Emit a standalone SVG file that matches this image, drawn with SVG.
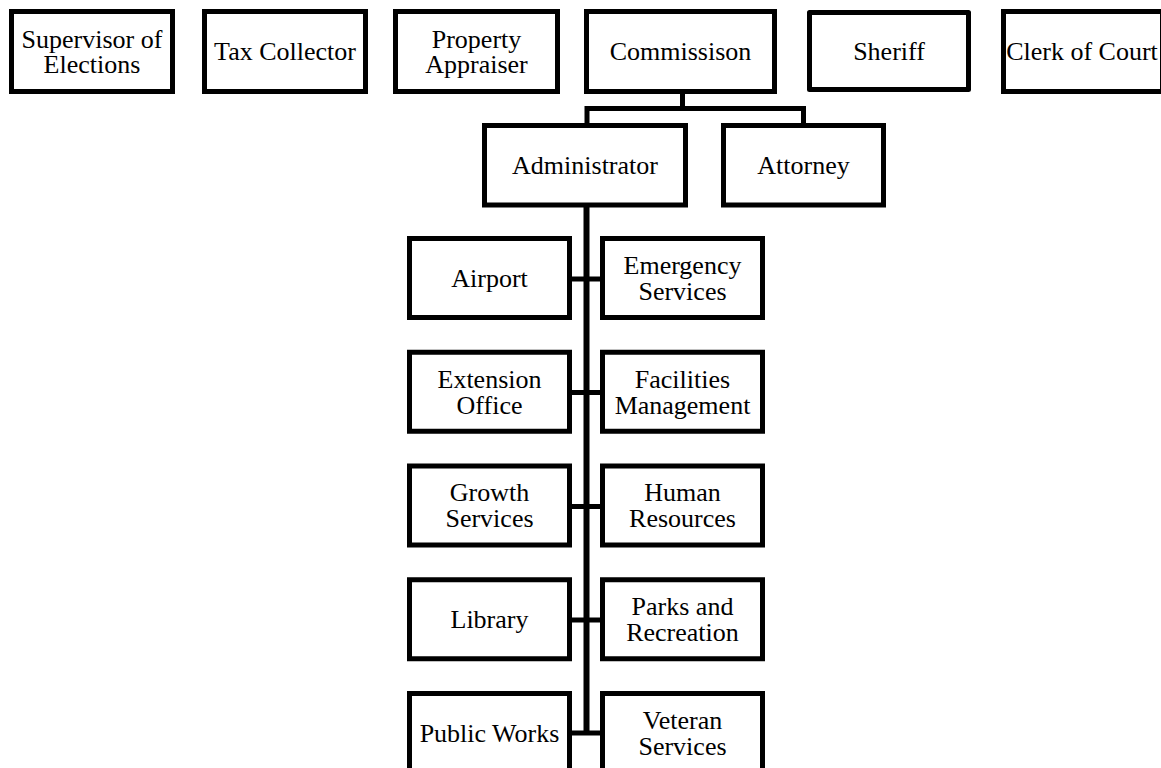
<svg xmlns="http://www.w3.org/2000/svg" width="1161" height="768" viewBox="0 0 1161 768">
<style>
.box{fill:#fff;stroke:#000;stroke-width:5}
.rnd{stroke-linejoin:round}
.t{font-family:"Liberation Serif","Times New Roman",serif;font-size:26px;fill:#000;text-anchor:middle}
.c{fill:none;stroke:#000;stroke-width:5}
</style>
<rect width="1161" height="768" fill="#fff"/>
<g id="connectors">
<polyline class="c" points="682.5,92 682.5,108.5"/>
<polyline class="c" points="587,123 587,108.5 803.5,108.5 803.5,123"/>
<line class="c" x1="586.5" y1="205" x2="586.5" y2="735" style="stroke-width:6"/>
<line class="c" x1="569" y1="279" x2="603" y2="279"/>
<line class="c" x1="569" y1="392.5" x2="603" y2="392.5"/>
<line class="c" x1="569" y1="506.5" x2="603" y2="506.5"/>
<line class="c" x1="569" y1="620" x2="603" y2="620"/>
<line class="c" x1="569" y1="733" x2="603" y2="733"/>
</g>
<g id="supervisor"><rect class="box" x="11.5" y="11.5" width="161" height="80"/><text class="t" x="92" y="47.5">Supervisor of</text><text class="t" x="92" y="73">Elections</text></g>
<g id="tax"><rect class="box" x="204.5" y="11.5" width="161" height="80"/><text class="t" x="285" y="60">Tax Collector</text></g>
<g id="property"><rect class="box" x="395.5" y="11.5" width="162" height="80"/><text class="t" x="476.5" y="47.5">Property</text><text class="t" x="476.5" y="73">Appraiser</text></g>
<g id="commission"><rect class="box" x="586.5" y="11.5" width="188" height="80"/><text class="t" x="680.5" y="60">Commissison</text></g>
<g id="sheriff"><rect class="box rnd" x="809.5" y="12.5" width="159" height="77"/><text class="t" x="889" y="60">Sheriff</text></g>
<g id="clerk"><rect class="box" x="1003.5" y="11.5" width="159" height="80"/><text class="t" x="1082" y="60">Clerk of Court</text></g>
<g id="administrator"><rect class="box" x="484.5" y="125.5" width="201" height="79.5"/><text class="t" x="585" y="174">Administrator</text></g>
<g id="attorney"><rect class="box" x="723.5" y="125.5" width="160" height="79.5"/><text class="t" x="803.5" y="174">Attorney</text></g>
<g id="airport"><rect class="box" x="409.5" y="238.5" width="160" height="79"/><text class="t" x="489.5" y="287">Airport</text></g>
<g id="emergency"><rect class="box" x="602.5" y="238.5" width="160" height="79"/><text class="t" x="682.5" y="273.5">Emergency</text><text class="t" x="682.5" y="299.5">Services</text></g>
<g id="extension"><rect class="box" x="409.5" y="352.25" width="160" height="79"/><text class="t" x="489.5" y="387.5">Extension</text><text class="t" x="489.5" y="413.5">Office</text></g>
<g id="facilities"><rect class="box" x="602.5" y="352.25" width="160" height="79"/><text class="t" x="682.5" y="387.5">Facilities</text><text class="t" x="682.5" y="413.5">Management</text></g>
<g id="growth"><rect class="box" x="409.5" y="466" width="160" height="79"/><text class="t" x="489.5" y="501">Growth</text><text class="t" x="489.5" y="527">Services</text></g>
<g id="hr"><rect class="box" x="602.5" y="466" width="160" height="79"/><text class="t" x="682.5" y="501">Human</text><text class="t" x="682.5" y="527">Resources</text></g>
<g id="library"><rect class="box" x="409.5" y="579.75" width="160" height="79"/><text class="t" x="489.5" y="628">Library</text></g>
<g id="parks"><rect class="box" x="602.5" y="579.75" width="160" height="79"/><text class="t" x="682.5" y="615">Parks and</text><text class="t" x="682.5" y="641">Recreation</text></g>
<g id="publicworks"><rect class="box" x="409.5" y="693.5" width="160" height="79"/><text class="t" x="489.5" y="742">Public Works</text></g>
<g id="veteran"><rect class="box" x="602.5" y="693.5" width="160" height="79"/><text class="t" x="682.5" y="728.5">Veteran</text><text class="t" x="682.5" y="754.5">Services</text></g>
</svg>
